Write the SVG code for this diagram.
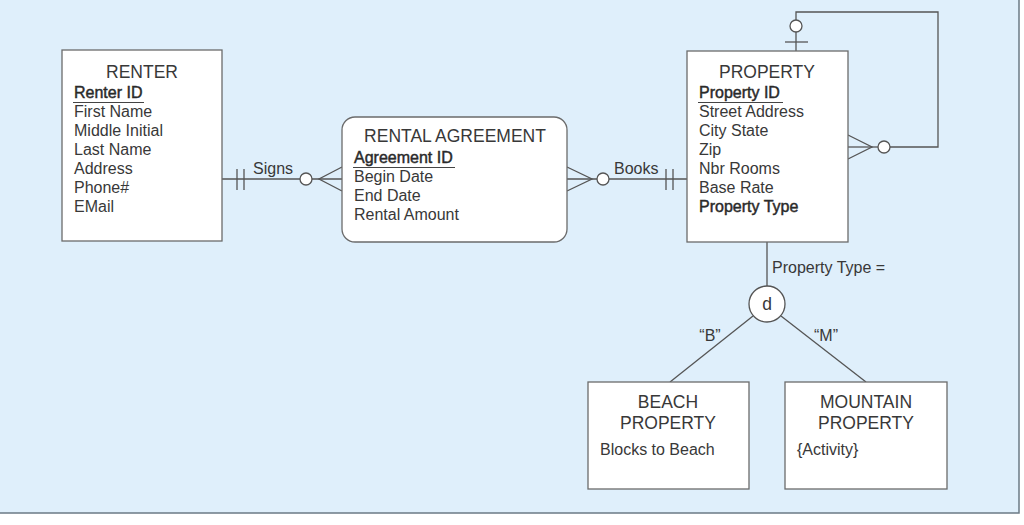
<svg xmlns="http://www.w3.org/2000/svg" width="1024" height="525" viewBox="0 0 1024 525">
<style>
.ent{fill:#fff;stroke:#6b6b6b;stroke-width:1.3}
.ln{fill:none;stroke:#555;stroke-width:1.3}
.t{font-family:"Liberation Sans",Arial,sans-serif;font-size:16px;fill:#383838}
.h{font-family:"Liberation Sans",Arial,sans-serif;font-size:17.5px;fill:#383838;text-anchor:middle}
.b{fill:#2a2a2a;stroke:#2a2a2a;stroke-width:0.45}
.c{fill:#fff;stroke:#555;stroke-width:1.3}
</style>
<rect x="0" y="0" width="1024" height="525" fill="#fff"/>
<rect x="-2" y="-2" width="1021" height="515" fill="#dfeffb" stroke="#6b7a85" stroke-width="1.5"/>

<g id="connectors">
  <!-- Signs -->
  <line class="ln" x1="222" y1="179" x2="342" y2="179"/>
  <line class="ln" x1="237" y1="169" x2="237" y2="190"/>
  <line class="ln" x1="244" y1="169" x2="244" y2="190"/>
  <circle class="c" cx="306" cy="179" r="6"/>
  <polyline class="ln" points="342,167 319,179 342,191"/>
  <text class="t" x="253" y="174">Signs</text>
  <!-- Books -->
  <line class="ln" x1="567" y1="179" x2="687" y2="179"/>
  <polyline class="ln" points="567,167 592,179 567,191"/>
  <circle class="c" cx="603" cy="179" r="6"/>
  <line class="ln" x1="666" y1="169" x2="666" y2="190"/>
  <line class="ln" x1="673" y1="169" x2="673" y2="190"/>
  <text class="t" x="614" y="174">Books</text>
  <!-- self relationship -->
  <polyline class="ln" points="796,51 796,12 938,12 938,147 890,147"/>
  <line class="ln" x1="848" y1="147" x2="878" y2="147"/>
  <circle class="c" cx="796" cy="26" r="6"/>
  <line class="ln" x1="785" y1="42" x2="808" y2="42"/>
  <polyline class="ln" points="848,135 872,147 848,159"/>
  <circle class="c" cx="884" cy="147" r="6"/>
  <!-- subtype -->
  <line class="ln" x1="767" y1="242" x2="767" y2="286"/>
  <text class="t" x="772" y="273">Property Type =</text>
  <line class="ln" x1="753" y1="316" x2="670" y2="382"/>
  <line class="ln" x1="781" y1="316" x2="866" y2="382"/>
  <text class="t" x="710" y="341" text-anchor="middle">“B”</text>
  <text class="t" x="826" y="341" text-anchor="middle">“M”</text>
</g>

<g id="d-circle">
  <circle class="c" cx="767" cy="304" r="18"/>
  <text class="h" x="767" y="310">d</text>
</g>

<g id="renter">
  <rect class="ent" x="62" y="50" width="160" height="191"/>
  <text class="h" x="142" y="78">RENTER</text>
  <text class="t b" x="74" y="98">Renter ID</text>
  <line x1="73" y1="102.5" x2="144" y2="102.5" stroke="#444" stroke-width="1"/>
  <text class="t" x="74" y="117">First Name</text>
  <text class="t" x="74" y="136">Middle Initial</text>
  <text class="t" x="74" y="155">Last Name</text>
  <text class="t" x="74" y="174">Address</text>
  <text class="t" x="74" y="193">Phone#</text>
  <text class="t" x="74" y="212">EMail</text>
</g>

<g id="rental-agreement">
  <rect class="ent" x="342" y="117" width="225" height="125" rx="13"/>
  <text class="h" x="455" y="142">RENTAL AGREEMENT</text>
  <text class="t b" x="354" y="163">Agreement ID</text>
  <line x1="353" y1="167.5" x2="455" y2="167.5" stroke="#444" stroke-width="1"/>
  <text class="t" x="354" y="182">Begin Date</text>
  <text class="t" x="354" y="201">End Date</text>
  <text class="t" x="354" y="220">Rental Amount</text>
</g>

<g id="property">
  <rect class="ent" x="687" y="51" width="161" height="191"/>
  <text class="h" x="767" y="78">PROPERTY</text>
  <text class="t b" x="699" y="98">Property ID</text>
  <line x1="698" y1="102.5" x2="783" y2="102.5" stroke="#444" stroke-width="1"/>
  <text class="t" x="699" y="117">Street Address</text>
  <text class="t" x="699" y="136">City State</text>
  <text class="t" x="699" y="155">Zip</text>
  <text class="t" x="699" y="174">Nbr Rooms</text>
  <text class="t" x="699" y="193">Base Rate</text>
  <text class="t b" x="699" y="212">Property Type</text>
</g>

<g id="beach-property">
  <rect class="ent" x="588" y="382" width="161" height="107"/>
  <text class="h" x="668" y="408">BEACH</text>
  <text class="h" x="668" y="429">PROPERTY</text>
  <text class="t" x="600" y="455">Blocks to Beach</text>
</g>

<g id="mountain-property">
  <rect class="ent" x="785" y="382" width="162" height="107"/>
  <text class="h" x="866" y="408">MOUNTAIN</text>
  <text class="h" x="866" y="429">PROPERTY</text>
  <text class="t" x="797" y="455">{Activity}</text>
</g>
</svg>
